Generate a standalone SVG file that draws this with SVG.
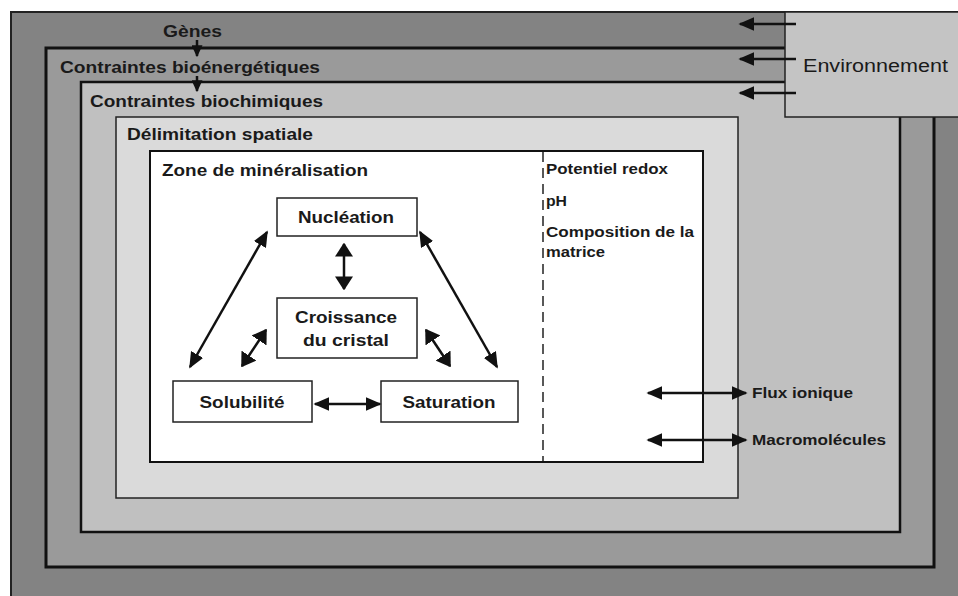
<svg xmlns="http://www.w3.org/2000/svg" width="958" height="596" viewBox="0 0 958 596">
<defs>
<style>
text{font-family:"Liberation Sans",Arial,sans-serif;font-weight:bold;fill:#1a1a1a}
.lbl{font-size:17px}
.node{font-size:17px;text-anchor:middle}
.small{font-size:14px}
.box{fill:#fff;stroke:#222;stroke-width:1.5}
.con{stroke:#111;stroke-width:2.5;fill:none}
</style>
<marker id="ah" viewBox="0 0 10 10" preserveAspectRatio="none" refX="9" refY="5" markerWidth="16" markerHeight="14" markerUnits="userSpaceOnUse" orient="auto-start-reverse">
<path d="M0,0 L10,5 L0,10 z" fill="#111"/>
</marker>
<marker id="ahs" viewBox="0 0 10 10" preserveAspectRatio="none" refX="9" refY="5" markerWidth="12" markerHeight="11" markerUnits="userSpaceOnUse" orient="auto-start-reverse">
<path d="M0,0 L10,5 L0,10 z" fill="#111"/>
</marker>
<marker id="ahb" viewBox="0 0 10 10" preserveAspectRatio="none" refX="9" refY="5" markerWidth="14" markerHeight="18" markerUnits="userSpaceOnUse" orient="auto-start-reverse">
<path d="M0,0 L10,5 L0,10 z" fill="#111"/>
</marker>
</defs>
<rect width="958" height="596" fill="#fff"/>
<g id="genes">
<rect x="11" y="12" width="960" height="600" fill="#838383" stroke="#222" stroke-width="2"/>
<text class="lbl" x="163" y="37" textLength="59" lengthAdjust="spacingAndGlyphs">Gènes</text>
</g>
<g id="bioenergetiques">
<rect x="46" y="48" width="888" height="519" fill="#9a9a9a" stroke="#111" stroke-width="3"/>
<text class="lbl" x="60" y="73" textLength="260" lengthAdjust="spacingAndGlyphs">Contraintes bioénergétiques</text>
</g>
<g id="biochimiques">
<rect x="81" y="82" width="819" height="450" fill="#c0c0c0" stroke="#111" stroke-width="2.5"/>
<text class="lbl" x="90" y="107" textLength="233" lengthAdjust="spacingAndGlyphs">Contraintes biochimiques</text>
</g>
<g id="environnement">
<rect x="785" y="12" width="180" height="105" fill="#c4c4c4" stroke="#222" stroke-width="1.5"/>
<text x="803" y="72" style="font-size:18px;font-weight:normal" textLength="145" lengthAdjust="spacingAndGlyphs">Environnement</text>
</g>
<g id="delimitation">
<rect x="116" y="117" width="622" height="381" fill="#dadada" stroke="#222" stroke-width="1.5"/>
<text class="lbl" x="127" y="140" textLength="186" lengthAdjust="spacingAndGlyphs">Délimitation spatiale</text>
</g>
<g id="zone">
<rect x="150" y="151" width="553" height="311" fill="#fff" stroke="#111" stroke-width="2"/>
<text class="lbl" x="162" y="176" textLength="206" lengthAdjust="spacingAndGlyphs">Zone de minéralisation</text>
<line x1="543" y1="152" x2="543" y2="461" stroke="#222" stroke-width="1.5" stroke-dasharray="10,6"/>
<text class="small" x="546" y="174" textLength="122" lengthAdjust="spacingAndGlyphs">Potentiel redox</text>
<text class="small" x="546" y="206" textLength="21" lengthAdjust="spacingAndGlyphs">pH</text>
<text class="small" x="546" y="237" textLength="148" lengthAdjust="spacingAndGlyphs">Composition de la</text>
<text class="small" x="546" y="257" textLength="59" lengthAdjust="spacingAndGlyphs">matrice</text>
</g>
<g id="nucleation">
<rect class="box" x="277" y="198" width="140" height="38"/>
<text class="node" x="346" y="223" textLength="96" lengthAdjust="spacingAndGlyphs">Nucléation</text>
</g>
<g id="croissance">
<rect class="box" x="277" y="298" width="140" height="60"/>
<text class="node" x="346" y="323" textLength="102" lengthAdjust="spacingAndGlyphs">Croissance</text>
<text class="node" x="346" y="346" textLength="86" lengthAdjust="spacingAndGlyphs">du cristal</text>
</g>
<g id="solubilite">
<rect class="box" x="173" y="381" width="139" height="41"/>
<text class="node" x="242" y="408" textLength="85" lengthAdjust="spacingAndGlyphs">Solubilité</text>
</g>
<g id="saturation">
<rect class="box" x="381" y="381" width="137" height="41"/>
<text class="node" x="449" y="408" textLength="93" lengthAdjust="spacingAndGlyphs">Saturation</text>
</g>
<g id="flux">
<text class="small" x="752" y="398" textLength="101" lengthAdjust="spacingAndGlyphs">Flux ionique</text>
</g>
<g id="macromolecules">
<text class="small" x="752" y="445" textLength="134" lengthAdjust="spacingAndGlyphs">Macromolécules</text>
</g>
<g id="connectors">
<line class="con" x1="197" y1="40" x2="197" y2="56" marker-end="url(#ahs)"/>
<line class="con" x1="197" y1="76" x2="197" y2="91" marker-end="url(#ahs)"/>
<line class="con" x1="796" y1="24" x2="740" y2="24" marker-end="url(#ah)"/>
<line class="con" x1="796" y1="59" x2="740" y2="59" marker-end="url(#ah)"/>
<line class="con" x1="796" y1="93" x2="740" y2="93" marker-end="url(#ah)"/>
<line class="con" x1="344" y1="244" x2="344" y2="289" marker-start="url(#ahb)" marker-end="url(#ahb)"/>
<line class="con" x1="267" y1="232" x2="190" y2="367" stroke-width="2" marker-start="url(#ah)" marker-end="url(#ah)"/>
<line class="con" x1="420" y1="232" x2="497" y2="367" stroke-width="2" marker-start="url(#ah)" marker-end="url(#ah)"/>
<line class="con" x1="266" y1="330" x2="242" y2="366" marker-start="url(#ahb)" marker-end="url(#ahb)"/>
<line class="con" x1="426" y1="330" x2="450" y2="366" marker-start="url(#ahb)" marker-end="url(#ahb)"/>
<line class="con" x1="315" y1="404" x2="380" y2="404" marker-start="url(#ah)" marker-end="url(#ah)"/>
<line class="con" x1="648" y1="393" x2="746" y2="393" marker-start="url(#ah)" marker-end="url(#ah)"/>
<line class="con" x1="648" y1="440" x2="746" y2="440" marker-start="url(#ah)" marker-end="url(#ah)"/>
</g>
</svg>
